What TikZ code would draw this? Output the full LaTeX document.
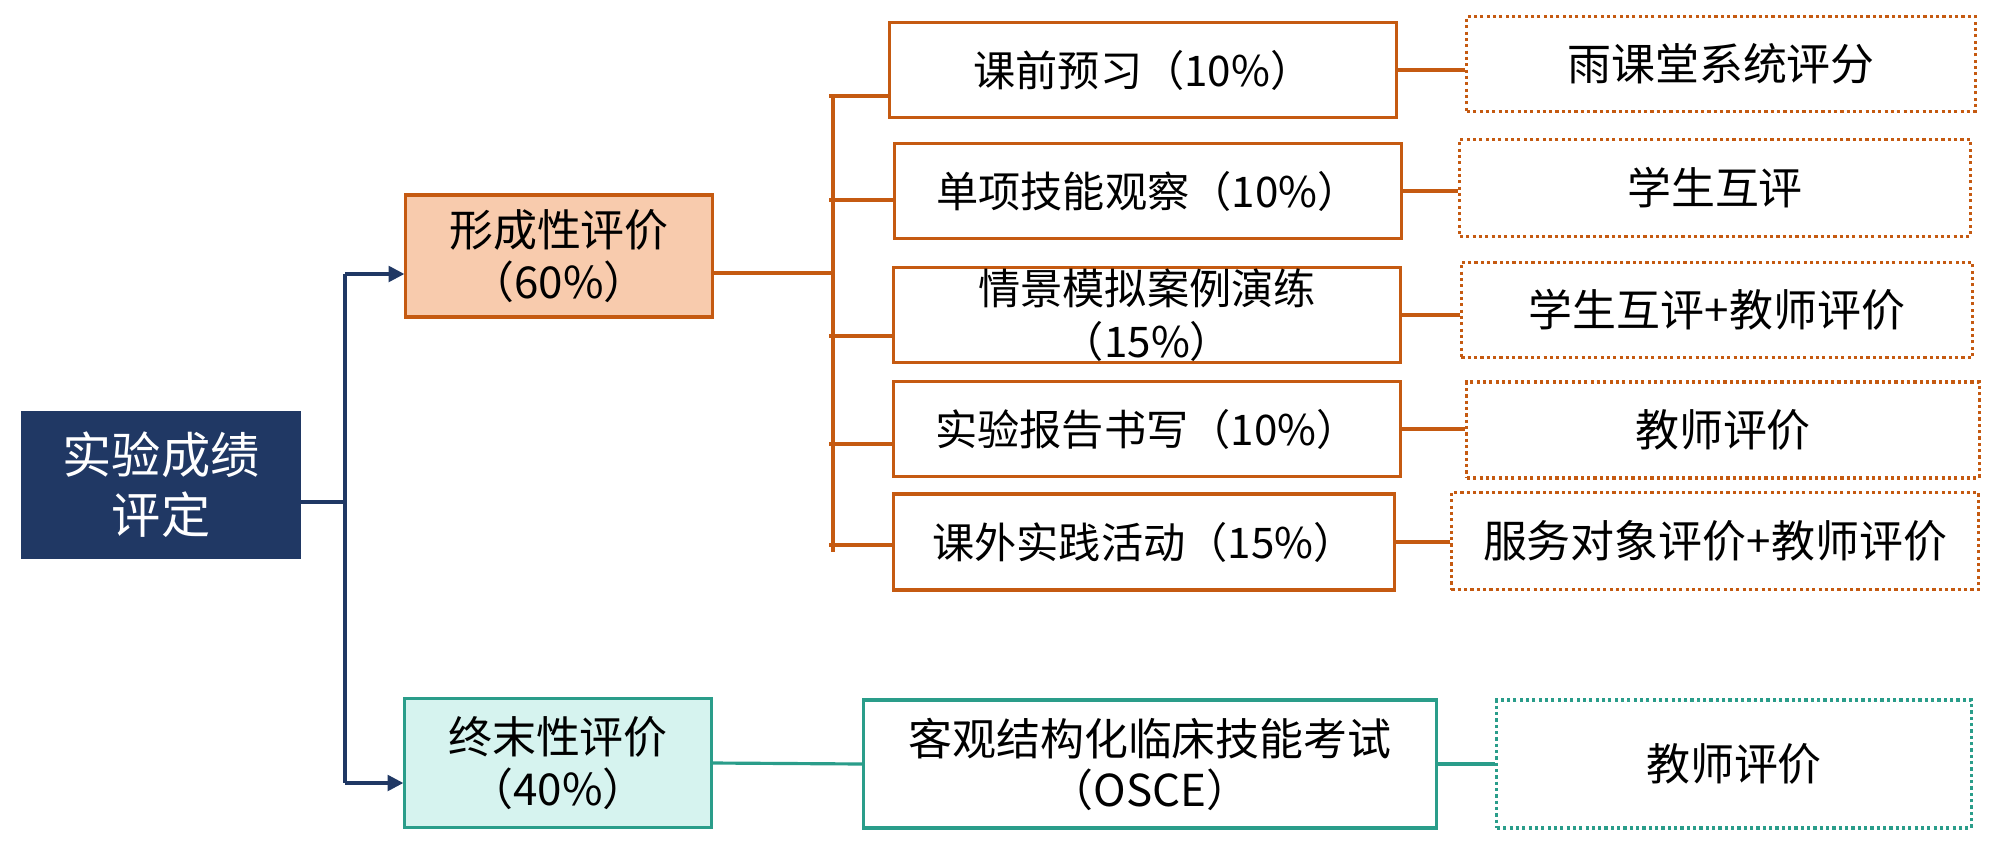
\documentclass[tikz,border=0pt]{standalone}
\usepackage{fontspec}
\setmainfont{Noto Sans CJK SC}
\usetikzlibrary{arrows.meta}

\definecolor{navy}{HTML}{203864}
\definecolor{rust}{HTML}{C55A11}
\definecolor{peach}{HTML}{F8CBAD}
\definecolor{teal2}{HTML}{2A9D8A}
\definecolor{mint}{HTML}{D6F3EF}

\tikzset{
  boxsize/.style 2 args={minimum width=#1cm, minimum height=#2cm},
  box/.style={draw, line width=0.9pt, align=center, inner sep=0pt,
    font=\fontsize{12}{15}\selectfont},
  rootbox/.style={box, draw=navy, fill=navy, text=white,
    font=\fontsize{14}{17}\selectfont},
  formbox/.style={box, draw=rust, fill=peach, font=\fontsize{12.5}{15}\selectfont},
  finalbox/.style={box, draw=teal2, fill=mint, font=\fontsize{12.5}{15}\selectfont},
  subbox/.style={box, draw=rust},
  oscebox/.style={box, draw=teal2, font=\fontsize{12.5}{14.5}\selectfont},
  dotbox/.style={box, draw=rust, dash pattern=on 0.9pt off 0.9pt,
    font=\fontsize{12.5}{15}\selectfont},
  navyline/.style={draw=navy, line width=0.9pt},
  rustline/.style={draw=rust, line width=0.9pt},
  tealline/.style={draw=teal2, line width=0.9pt},
}

\begin{document}
\begin{tikzpicture}[x=0.01cm, y=-0.01cm]
\useasboundingbox (0,0) rectangle (2000,848);

% 总评
\node[rootbox, boxsize={2.77}{1.44}] (root) at (161,485) {实验成绩\\评定};
% 两类评价
\node[formbox, boxsize={3.06}{1.22}] (form) at (559,256) {形成性评价\\（60\%）};
\node[finalbox, boxsize={3.06}{1.29}] (final) at (558,763) {终末性评价\\（40\%）};

% 形成性评价的五项
\node[subbox, boxsize={5.07}{0.95}] (sub1) at (1143,70) {课前预习（10\%）};
\node[subbox, boxsize={5.06}{0.95}] (sub2) at (1148,191) {单项技能观察（10\%）};
\node[subbox, boxsize={5.07}{0.95}] (sub3) at (1147,315) {情景模拟案例演练\\（15\%）};
\node[subbox, boxsize={5.07}{0.95}] (sub4) at (1147,429) {实验报告书写（10\%）};
\node[subbox, boxsize={5.00}{0.96}] (sub5) at (1144,542) {课外实践活动（15\%）};

% 评价方式
\node[dotbox, boxsize={5.08}{0.95}] (dot1) at (1721,64) {雨课堂系统评分};
\node[dotbox, boxsize={5.10}{0.97}] (dot2) at (1715,188) {学生互评};
\node[dotbox, boxsize={5.11}{0.95}] (dot3) at (1717,310) {学生互评+教师评价};
\node[dotbox, boxsize={5.12}{0.96}] (dot4) at (1723,430) {教师评价};
\node[dotbox, boxsize={5.27}{0.97}] (dot5) at (1715,541) {服务对象评价+教师评价};

% 终末性评价
\node[oscebox, boxsize={5.72}{1.28}] (osce) at (1150,764) {客观结构化临床技能考试\\（OSCE）};
\node[dotbox, draw=teal2, boxsize={4.74}{1.28}] (dotT) at (1734,764) {教师评价};

% 左侧蓝色分支
\coordinate (tmid) at (345,502);
\coordinate (ttop) at (345,274);
\coordinate (tbot) at (345,783);
\draw[navyline] (root.east |- tmid) -- (tmid);
\draw[navyline] (ttop) -- (tbot);
\draw[navyline, -{Triangle[length=4.5pt, width=4.5pt]}] (ttop) -- (ttop -| form.west);
\draw[navyline, -{Triangle[length=4.5pt, width=4.5pt]}] (tbot) -- (tbot -| final.west);

% 橙色括号
\coordinate (bj) at (833,273);
\coordinate (btop) at (833,96);
\coordinate (bbot) at (833,552);
\draw[rustline] (form.east |- bj) -- (bj);
\draw[rustline] (btop) -- (bbot);
\coordinate (s1) at (829,96);
\coordinate (s2) at (829,200);
\coordinate (s3) at (829,336);
\coordinate (s4) at (829,444);
\coordinate (s5) at (829,545);
\draw[rustline] (s1) -- (s1 -| sub1.west);
\draw[rustline] (s2) -- (s2 -| sub2.west);
\draw[rustline] (s3) -- (s3 -| sub3.west);
\draw[rustline] (s4) -- (s4 -| sub4.west);
\draw[rustline] (s5) -- (s5 -| sub5.west);

% 各项到评价方式
\draw[rustline] (sub1.east) -- (sub1.east -| dot1.west);
\draw[rustline] (sub2.east) -- (sub2.east -| dot2.west);
\draw[rustline] (sub3.east) -- (sub3.east -| dot3.west);
\draw[rustline] (sub4.east) -- (sub4.east -| dot4.west);
\draw[rustline] (sub5.east) -- (sub5.east -| dot5.west);

% 终末性评价连线
\draw[tealline] (final.east) -- (osce.west);
\draw[tealline] (osce.east) -- (dotT.west);

\end{tikzpicture}
\end{document}
